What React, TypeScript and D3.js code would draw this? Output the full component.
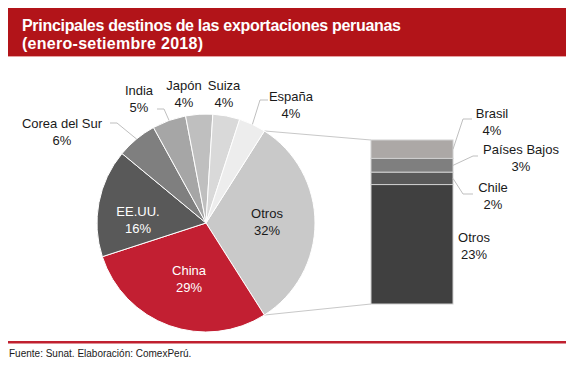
import React from "react";
import * as d3 from "d3";

const pieLabels = ["Otros", "China", "EE.UU.", "Corea del Sur", "India", "Japón", "Suiza", "España"];
const pieValues = [32, 29, 16, 6, 5, 4, 4, 4];
const pieColors = ["#c9c9c9", "#c21f32", "#595959", "#7f7f7f", "#a6a6a6", "#bfbfbf", "#d9d9d9", "#ededed"];

const barLabels = ["Brasil", "Países Bajos", "Chile", "Otros"];
const barValues = [3.6, 2.7, 2.4, 23.3];
const barShown = ["4%", "3%", "2%", "23%"];
const barColors = ["#aca8a6", "#7f7f7f", "#595959", "#404040"];

const titleLines = ["Principales destinos de las exportaciones peruanas", "(enero-setiembre 2018)"];
const sourceText = "Fuente: Sunat. Elaboración: ComexPerú.";

const W = 575, H = 369;
const cx = 206, cy = 223, R = 109;
const barX0 = 371, barX1 = 453, barTop = 140, barBottom = 304;

const pieLabelLayout: Record<string, { x: number; y: number; white?: boolean; leader?: [number, number][] }> = {
  "Otros": { x: 267, y: 213 },
  "China": { x: 189, y: 270, white: true },
  "EE.UU.": { x: 138, y: 211, white: true },
  "Corea del Sur": { x: 62, y: 123, leader: [[110, 123], [117, 123]] },
  "India": { x: 139, y: 90, leader: [[157, 109], [164, 109]] },
  "Japón": { x: 184, y: 85 },
  "Suiza": { x: 224, y: 85 },
  "España": { x: 291, y: 96, leader: [[268, 100], [260, 100]] },
};
const barLabelLayout: Record<string, { x: number; y: number; leader?: [number, number][] }> = {
  "Brasil": { x: 492, y: 113, leader: [[463, 119], [472, 119]] },
  "Países Bajos": { x: 521, y: 149, leader: [[473, 156], [478, 156]] },
  "Chile": { x: 493, y: 187, leader: [[463, 194], [473, 194]] },
  "Otros": { x: 474, y: 237 },
};

export default function App() {
  const total = d3.sum(pieValues);
  const start = Math.PI / 2 - (pieValues[0] / total) * Math.PI;
  const pie = d3.pie<number>().sort(null).value((d) => d).startAngle(start).endAngle(start + 2 * Math.PI);
  const arcs = pie(pieValues);
  const arcGen = d3.arc<d3.PieArcDatum<number>>().innerRadius(0).outerRadius(R);

  const edge = (a: number): [number, number] => [cx + R * Math.sin(a), cy - R * Math.cos(a)];

  const y = d3.scaleLinear().domain([0, d3.sum(barValues)]).range([barTop, barBottom]);
  const cum = d3.cumsum(barValues);
  const segs = barValues.map((v, i) => ({ y0: y(cum[i] - v), y1: y(cum[i]) }));

  const otrosArc = arcs[0];
  const pTop = edge(otrosArc.startAngle);
  const pBot = edge(otrosArc.endAngle);

  const font = "Liberation Sans, Arial, sans-serif";
  const lh = 17;

  return (
    <svg width={W} height={H} style={{ position: "absolute", left: 0, top: 0, fontFamily: font }}>
      <rect x={0} y={0} width={W} height={H} fill="#fff" />
      <rect x={8} y={8} width={558} height={49} fill="#b21419" />
      <rect x={8} y={56} width={558} height={1} fill="#e8a0a0" />
      <text x={22} y={31} fill="#fff" fontSize={16} fontWeight="bold" textLength={379} lengthAdjust="spacing">{titleLines[0]}</text>
      <text x={22} y={49} fill="#fff" fontSize={16} fontWeight="bold" textLength={181} lengthAdjust="spacing">{titleLines[1]}</text>

      <line x1={pTop[0]} y1={pTop[1]} x2={barX0} y2={barTop} stroke="#c8c8c8" strokeWidth={1} />
      <line x1={pBot[0]} y1={pBot[1]} x2={barX0} y2={barBottom} stroke="#c8c8c8" strokeWidth={1} />

      <g transform={`translate(${cx},${cy})`}>
        {arcs.map((a, i) => (
          <path key={i} d={arcGen(a) || ""} fill={pieColors[i]} stroke="#fff" strokeWidth={1} />
        ))}
      </g>

      {arcs.map((a, i) => {
        const name = pieLabels[i];
        const L = pieLabelLayout[name];
        const mid = (a.startAngle + a.endAngle) / 2;
        const e = edge(mid);
        const color = L.white ? "#fff" : "#1a1a1a";
        return (
          <g key={name}>
            {L.leader && (
              <polyline
                points={[...L.leader, e].map((p) => p.join(",")).join(" ")}
                fill="none"
                stroke="#bfbfbf"
                strokeWidth={1}
              />
            )}
            <text x={L.x} y={L.y + 4.5} textAnchor="middle" fontSize={13} fill={color}>{name}</text>
            <text x={L.x} y={L.y + lh + 4.5} textAnchor="middle" fontSize={13} fill={color}>{`${pieValues[i]}%`}</text>
          </g>
        );
      })}

      {segs.map((s, i) => (
        <rect key={i} x={barX0} y={s.y0} width={barX1 - barX0} height={s.y1 - s.y0} fill={barColors[i]} stroke="#cfcfcf" strokeWidth={1} />
      ))}

      {barLabels.map((name, i) => {
        const L = barLabelLayout[name];
        const s = segs[i];
        const e: [number, number] = [barX1, (s.y0 + s.y1) / 2];
        return (
          <g key={name}>
            {L.leader && (
              <polyline
                points={[e, ...L.leader].map((p) => p.join(",")).join(" ")}
                fill="none"
                stroke="#bfbfbf"
                strokeWidth={1}
              />
            )}
            <text x={L.x} y={L.y + 4.5} textAnchor="middle" fontSize={13} fill="#1a1a1a">{name}</text>
            <text x={L.x} y={L.y + lh + 4.5} textAnchor="middle" fontSize={13} fill="#1a1a1a">{barShown[i]}</text>
          </g>
        );
      })}

      <rect x={8} y={341} width={558} height={2.5} fill="#c0202f" />
      <text x={9} y={357} fontSize={10} fill="#1a1a1a">{sourceText}</text>
    </svg>
  );
}
